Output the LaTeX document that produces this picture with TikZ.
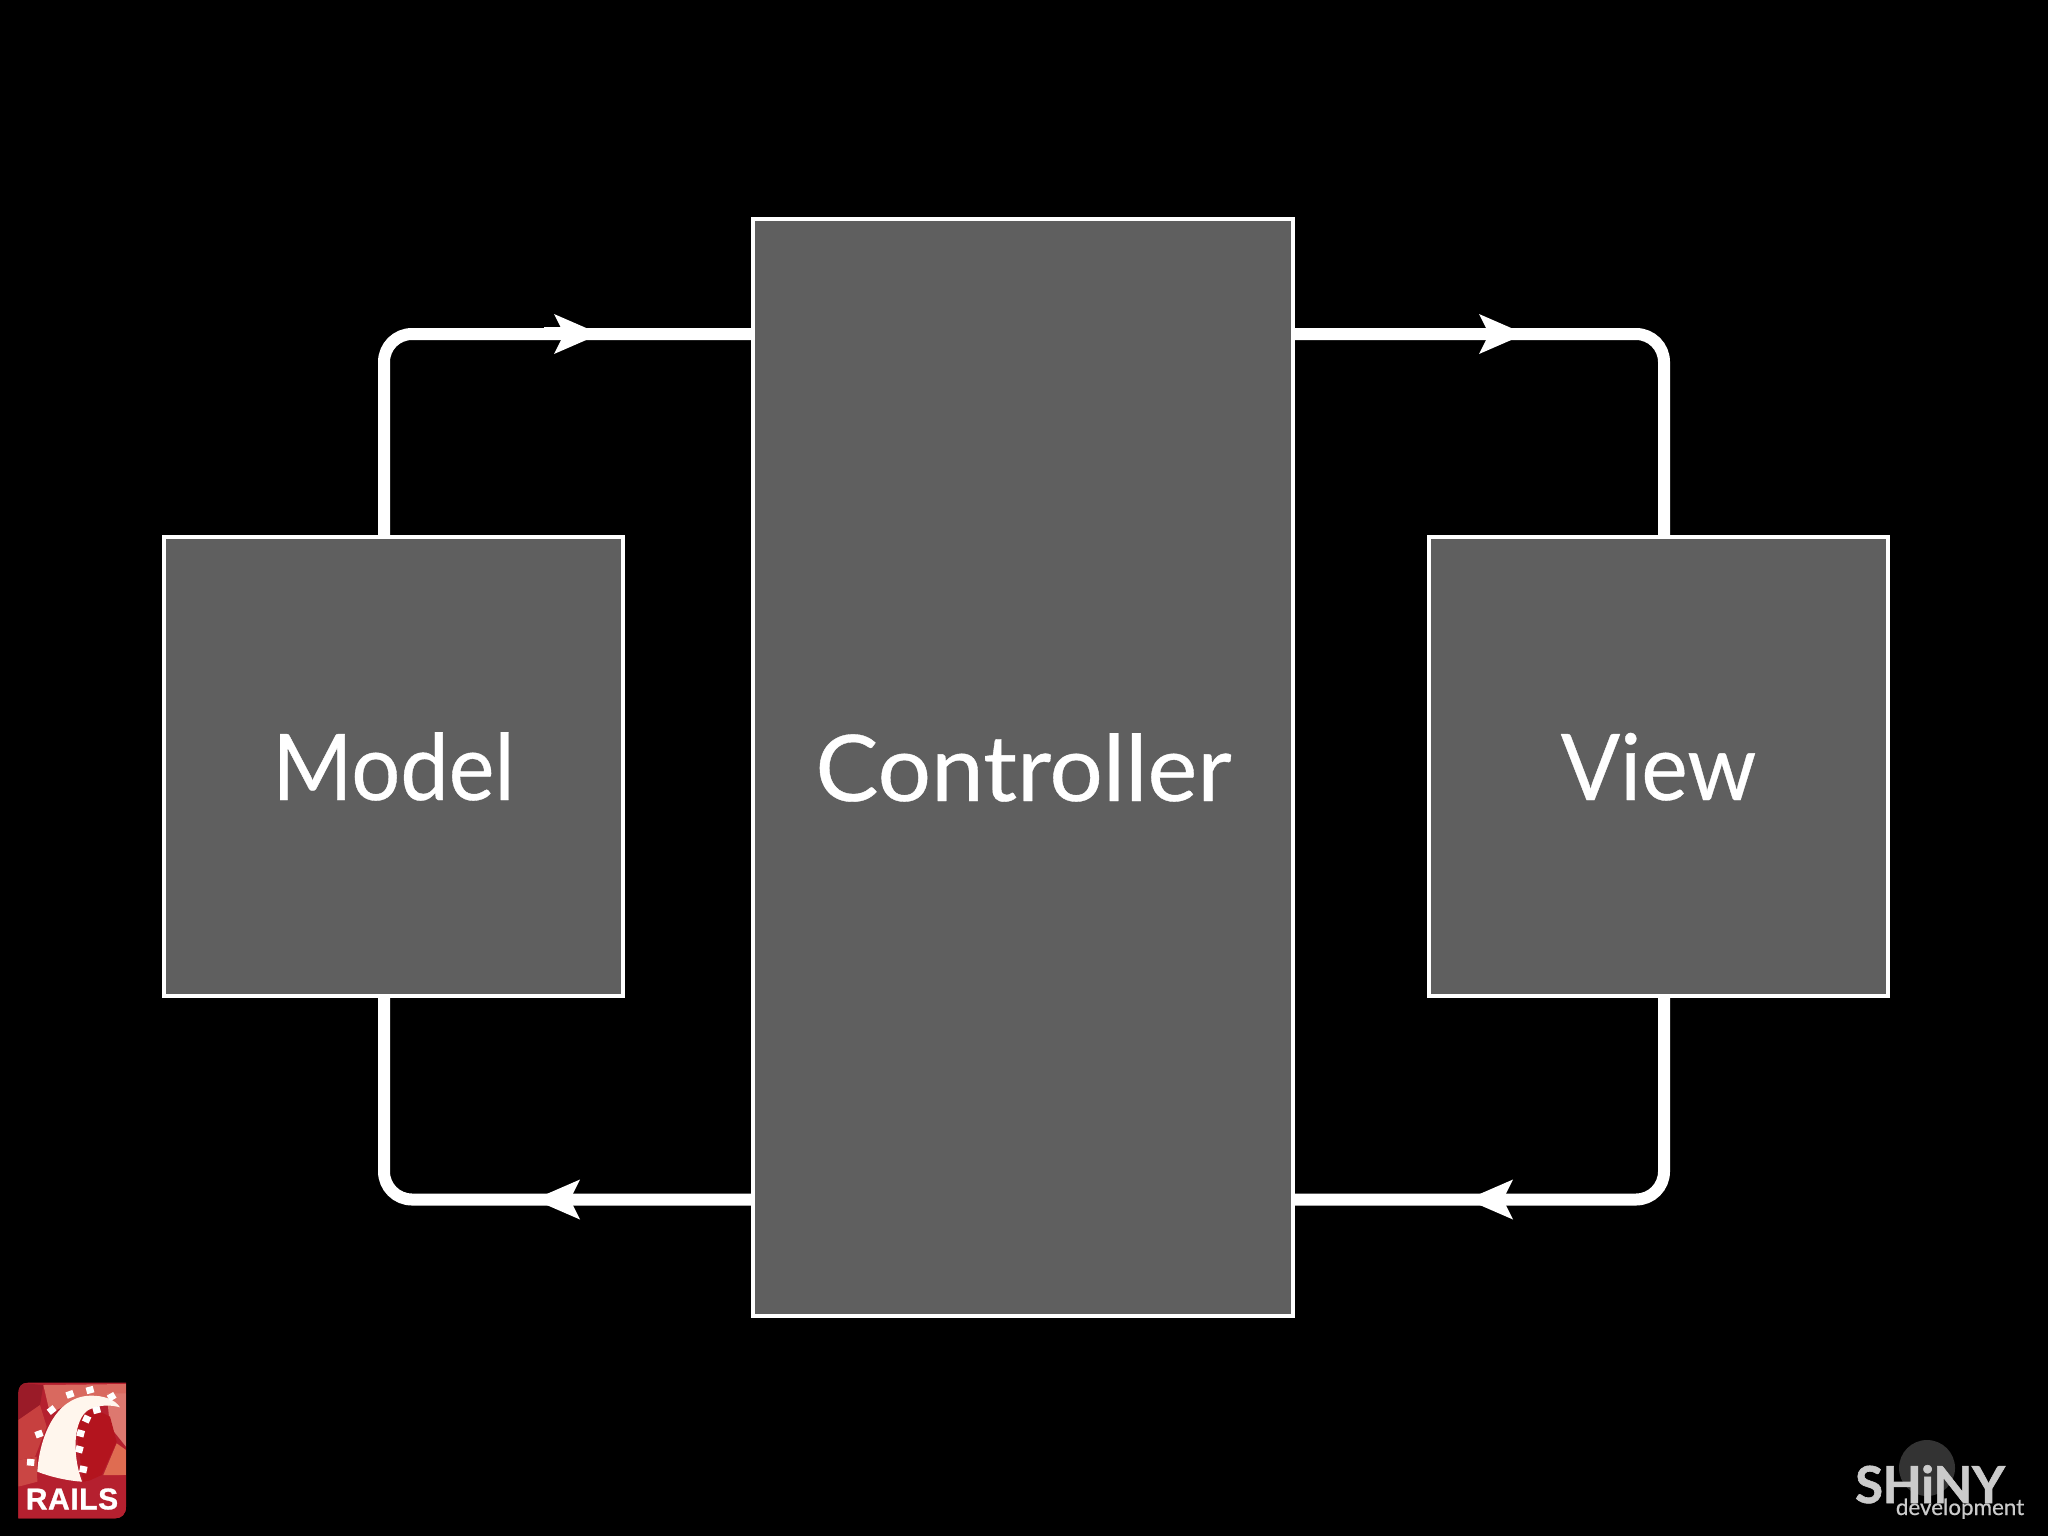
\documentclass[tikz,border=0pt]{standalone}
\usepackage{fontspec}
\usepackage{graphicx}
\setmainfont{Lato}
\newfontfamily\logofont{Liberation Sans}
\usetikzlibrary{arrows.meta}
\definecolor{boxgrey}{HTML}{5F5F5F}
\definecolor{shiny}{HTML}{CBCBCB}
\definecolor{railred}{HTML}{B5202F}
\definecolor{railsalmon}{HTML}{D9695F}
\definecolor{railmid}{HTML}{C7403F}
\definecolor{raildark}{HTML}{B3141E}
\tikzset{
  mvcbox/.style={draw=white,line width=2pt,fill=boxgrey,text=white,
    font=\fontsize{46}{46}\selectfont\addfontfeature{FakeBold=0.4},inner sep=0pt,text height=33.5pt,text depth=0pt},
  conn/.style={draw=white,line width=6pt,line cap=butt},
  headmark/.style={draw=white,line width=0.2pt,-{Stealth[length=23pt,width=20pt,inset=5pt,fill=white,line width=0pt]}},
  facet/.style={draw=none},
  tick/.style={fill=white,draw=none}
}
\begin{document}
\begin{tikzpicture}[x=0.5pt,y=-0.5pt]
\useasboundingbox (0,0) rectangle (2048,1536);
\fill[black] (0,0) rectangle (2048,1536);

% boxes
\node[mvcbox,minimum width=229.5pt,minimum height=229.5pt] (model) at (393.5,766.5) {\scalebox{0.94}[1]{Model}};
\node[mvcbox,minimum width=270pt,minimum height=548.5pt] (controller) at (1023,767.5) {\kern0.5pt\scalebox{1.026}[1]{Controller}};
\node[mvcbox,minimum width=229.5pt,minimum height=229.5pt] (view) at (1658.5,766.5) {\scalebox{0.955}[1]{View}};

% connector guide points
\coordinate (leftx) at (384,0);
\coordinate (rightx) at (1664,0);
\coordinate (tl) at (600,334);
\coordinate (tlback) at (554,334);
\coordinate (tr) at (1525,334);
\coordinate (trback) at (1480,334);
\coordinate (bl) at (534,1199.5);
\coordinate (blback) at (578,1199.5);
\coordinate (br) at (1467,1199.5);
\coordinate (brback) at (1510,1199.5);

% connectors
\fill[white] (544,326.5) rectangle (572,340);
\draw[conn,rounded corners=14pt] (model.north -| leftx) |- (controller.west |- tl);
\draw[conn,rounded corners=14pt] (controller.east |- tr) -| (view.north -| rightx);
\draw[conn,rounded corners=14pt] (view.south -| rightx) |- (controller.east |- br);
\draw[conn,rounded corners=14pt] (controller.west |- bl) -| (model.south -| leftx);
\draw[headmark] (tlback) -- (tl);
\draw[headmark] (trback) -- (tr);
\draw[headmark] (blback) -- (bl);
\draw[headmark] (brback) -- (br);

% Rails logo (coordinates: zoomed crop, 3 units per pixel)
\begin{scope}[shift={(0,1360)},x=0.16667pt,y=-0.16667pt]
  \begin{scope}
    \clip (55,475) -- (55,100) .. controls (55,80) and (65,68) .. (85,68) -- (378,68) -- (378,440) .. controls (378,462) and (365,475) .. (345,475) -- cycle;
    \fill[railred] (40,50) rectangle (390,490);
    \fill[facet,fill=railred!85!black] (55,68) -- (130,75) -- (120,135) -- (55,180) -- cycle;
    \fill[facet,fill=railsalmon] (130,75) -- (378,72) -- (378,130) -- (250,110) -- (150,160) -- cycle;
    \fill[facet,fill=railsalmon!90!white] (320,100) -- (378,100) -- (378,260) -- (330,200) -- cycle;
    \fill[facet,fill=railsalmon!85!orange] (350,250) -- (378,270) -- (378,345) -- (310,345) -- cycle;
    \fill[facet,fill=raildark] (225,180) -- (280,145) -- (330,170) -- (350,245) -- (305,345) -- (250,370) -- cycle;
    \fill[facet,fill=railmid] (55,180) -- (120,135) -- (140,200) -- (105,290) -- (55,300) -- cycle;
    \fill[facet,fill=railmid!85!railsalmon] (55,300) -- (110,290) -- (112,365) -- (55,380) -- cycle;
    \fill[facet,fill=railred] (250,365) -- (378,345) -- (378,475) -- (55,475) -- (55,380) -- cycle;
    % rail arc
    \fill[white!93!orange] (112,335) .. controls (118,235) and (165,110) .. (270,107) .. controls (310,106) and (345,118) .. (360,142)
       .. controls (335,135) and (300,132) .. (265,150) .. controls (225,175) and (212,270) .. (246,365) .. controls (200,362) and (150,350) .. (112,335) -- cycle;
    \foreach \px/\py/\pa in {92/307/-5,117/222/20,155/150/38,210/103/20,270/90/15,335/110/30,290/150/15,260/177/-25,242/220/-15,238/268/-15,250/328/-12}
      \fill[tick,shift={(\px,\py)},rotate=\pa] (-11,-10) rectangle (11,10);
  \end{scope}
  \node[text=white,anchor=base,inner sep=0pt,font=\logofont\bfseries\fontsize{15}{15}\selectfont\addfontfeature{LetterSpace=2,FakeBold=1}] (rails) at (216,448) {RAILS};
\end{scope}

% Shiny development logo
\fill[black!80!white] (1927,1468) circle (28);
\node[text=shiny,anchor=base,inner sep=0pt,font=\bfseries\fontsize{25.5}{25.5}\selectfont\addfontfeature{FakeBold=1.2,LetterSpace=-1}] (shinyword) at (1930,1503) {SHiNY};
\node[text=shiny,anchor=base,inner sep=0pt,font=\fontsize{11.2}{11.2}\selectfont\addfontfeature{FakeBold=0.6}] (devword) at (1960,1515) {development};
\end{tikzpicture}
\end{document}
